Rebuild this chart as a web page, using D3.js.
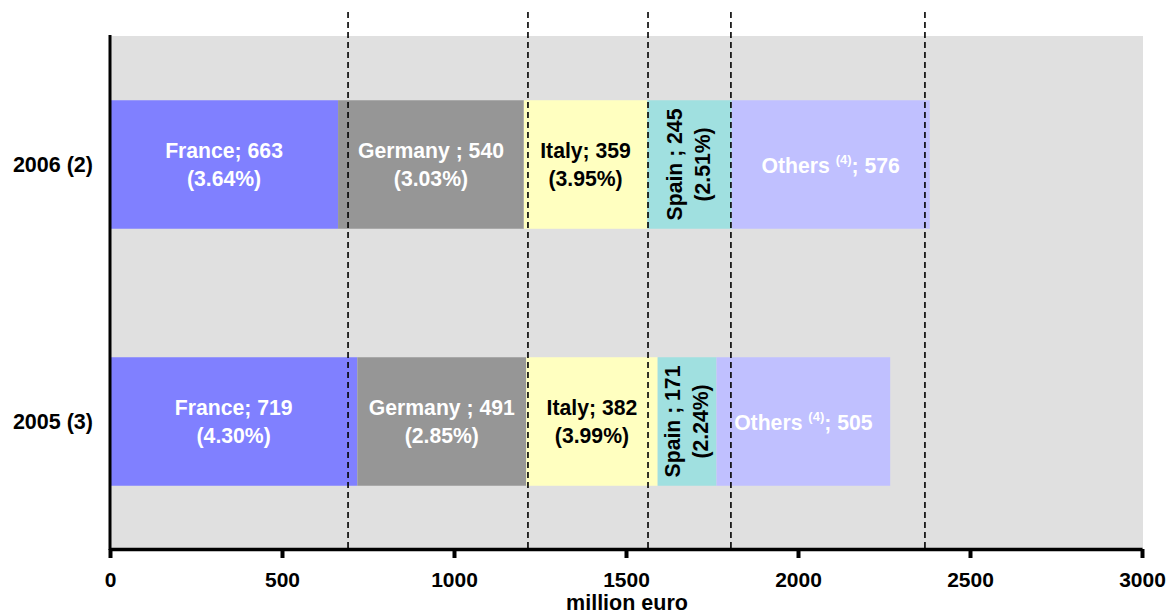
<!DOCTYPE html>
<html><head><meta charset="utf-8">
<script src="https://cdn.jsdelivr.net/npm/d3@7"></script>
<style>body{margin:0;background:#fff;} text{font-family:"Liberation Sans",Arial,sans-serif;font-weight:bold;}</style>
</head><body><svg id="c" width="1170" height="614"></svg>
<script>
const years = ["2006 (2)", "2005 (3)"];
const countries = ["France", "Germany", "Italy", "Spain", "Others"];
const labelNames = ["France;", "Germany ;", "Italy;", "Spain ;", "Others"];
const values2006 = [663, 540, 359, 245, 576];
const values2005 = [719, 491, 382, 171, 505];
const shares2006 = ["3.64%", "3.03%", "3.95%", "2.51%", null];
const shares2005 = ["4.30%", "2.85%", "3.99%", "2.24%", null];
const colors = ["#8080ff", "#969696", "#ffffc0", "#a0e0e0", "#c0c0ff"];
const textColors = ["#fff", "#fff", "#000", "#000", "#fff"];
const dashedValues = [692, 1215, 1564, 1805, 2369];
const xTicks = [0, 500, 1000, 1500, 2000, 2500, 3000];
const xTitle = "million euro";

const svg = d3.select("#c");
const x = d3.scaleLinear().domain([0, 3000]).range([110, 1142]);
const y = d3.scaleBand().domain(years).range([36, 550]).paddingInner(0.5).paddingOuter(0.25);
const FS = 21.2;

svg.append("rect").attr("x", 110).attr("y", 36).attr("width", 1143 - 110).attr("height", 549 - 36).attr("fill", "#e0e0e0");

const rows = [
  {year: years[0], vals: values2006, shares: shares2006},
  {year: years[1], vals: values2005, shares: shares2005}
];

rows.forEach(r => {
  let cum = 0;
  r.vals.forEach((v, i) => {
    const x0 = x(cum), x1 = x(cum + v);
    cum += v;
    svg.append("rect").attr("x", x0).attr("y", y(r.year)).attr("width", x1 - x0).attr("height", y.bandwidth()).attr("fill", colors[i]);
    const cx = (x0 + x1) / 2, cy = y(r.year) + y.bandwidth() / 2;
    if (countries[i] === "Others") {
      const t = svg.append("text").attr("x", cx).attr("y", cy + 8).attr("text-anchor", "middle").attr("font-size", FS).attr("fill", textColors[i]);
      t.append("tspan").text("Others ");
      t.append("tspan").attr("font-size", 13).attr("dy", -9).text("(4)");
      t.append("tspan").attr("dy", 9).text("; " + v);
    } else if (countries[i] === "Spain") {
      const t = svg.append("text").attr("transform", `translate(${cx},${cy}) rotate(-90)`).attr("text-anchor", "middle").attr("font-size", FS).attr("fill", textColors[i]);
      t.append("tspan").attr("x", 0).attr("y", -7).text(labelNames[i] + " " + v);
      t.append("tspan").attr("x", 0).attr("y", 21).text("(" + r.shares[i] + ")");
    } else {
      const t = svg.append("text").attr("text-anchor", "middle").attr("font-size", FS).attr("fill", textColors[i]);
      t.append("tspan").attr("x", cx).attr("y", cy - 7).text(labelNames[i] + " " + v);
      t.append("tspan").attr("x", cx).attr("y", cy + 21).text("(" + r.shares[i] + ")");
    }
  });
});

// dashed lines
svg.selectAll("line.dash").data(dashedValues).enter().append("line")
  .attr("x1", d => x(d)).attr("x2", d => x(d)).attr("y1", 12).attr("y2", 548)
  .attr("stroke", "#000").attr("stroke-width", 1.6).attr("stroke-dasharray", "6,4");

// y labels
years.forEach(yr => {
  svg.append("text").attr("x", 93).attr("y", y(yr) + y.bandwidth() / 2 + 7.5).attr("text-anchor", "end").attr("font-size", 21.5).attr("fill", "#000").text(yr);
});

// left axis line
svg.append("line").attr("x1", 110).attr("x2", 110).attr("y1", 35).attr("y2", 550).attr("stroke", "#000").attr("stroke-width", 3);

// x axis
const xAxis = d3.axisBottom(x).tickValues(xTicks).tickSize(9).tickPadding(14).tickSizeOuter(0).tickFormat(d3.format("d"));
const g = svg.append("g").attr("transform", "translate(0,549)").call(xAxis);
g.select(".domain").attr("stroke", "#000").attr("stroke-width", 3.5);
g.selectAll(".tick line").attr("stroke", "#000").attr("stroke-width", 4);
g.selectAll(".tick text").attr("font-size", 21).attr("font-family", "Liberation Sans, Arial, sans-serif").attr("font-weight", "bold").attr("fill", "#000");

svg.append("text").attr("x", 627).attr("y", 610).attr("text-anchor", "middle").attr("font-size", 21.5).attr("fill", "#000").text(xTitle);
</script></body></html>
